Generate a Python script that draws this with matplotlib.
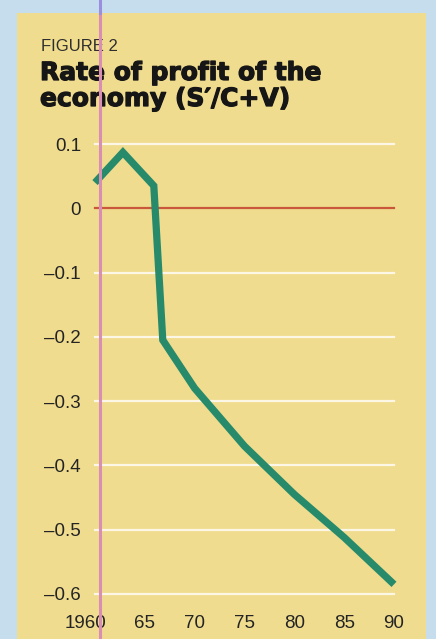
import matplotlib
matplotlib.use("Agg")
import matplotlib.pyplot as plt
from matplotlib.patches import Rectangle
from matplotlib.lines import Line2D
import matplotlib.transforms as mtransforms
import matplotlib.patheffects as pe

# Data
years = [1960, 1962.8, 1965.9, 1966.8, 1970, 1975, 1980, 1985, 1990]
rate = [0.04, 0.087, 0.035, -0.205, -0.28, -0.37, -0.445, -0.512, -0.585]
xticks = [1960, 1965, 1970, 1975, 1980, 1985, 1990]
xlabels = ["1960", "65", "70", "75", "80", "85", "90"]
yticks = [0.1, 0.0, -0.1, -0.2, -0.3, -0.4, -0.5, -0.6]
ylabels = ["0.1", "0", "\u20130.1", "\u20130.2", "\u20130.3", "\u20130.4", "\u20130.5", "\u20130.6"]

W, H = 436, 639
fig = plt.figure(figsize=(W / 100, H / 100), dpi=100)
fig.patch.set_facecolor("#c6ddee")

# Yellow panel
fig.patches.append(Rectangle((17 / W, 0), (426 - 17) / W, (H - 13) / H,
                             transform=fig.transFigure, facecolor="#f0dc8e",
                             edgecolor="none", zorder=-5))

ax = fig.add_axes([95 / W, (H - 594) / H, (394 - 95) / W, 450 / H])
ax.set_zorder(2)
ax.set_facecolor("none")
ax.set_xlim(1960, 1990)
ax.set_ylim(-0.6, 0.1)
for s in ax.spines.values():
    s.set_visible(False)

for y in yticks:
    if y == 0:
        ax.axhline(y, color="#c9573c", lw=1.6, zorder=2, clip_on=False)
    else:
        ax.axhline(y, color="#fbf6e6", lw=1.6, zorder=1, clip_on=False)

ax.plot(years, rate, color="#278a6a", lw=5.2, solid_joinstyle="miter",
        solid_capstyle="butt", zorder=3, clip_on=False)

ax.set_yticks(yticks)
ax.set_yticklabels(ylabels, fontsize=13.5, family="Liberation Sans", color="#242424")
ax.set_xticks(xticks)
ax.set_xticklabels(xlabels, fontsize=13.5, family="Liberation Sans", color="#242424")
ax.tick_params(axis="y", length=0, pad=10)
ax.tick_params(axis="x", length=0, pad=15)

lab0 = ax.get_xticklabels()[0]
lab0.set_transform(lab0.get_transform() +
                   mtransforms.ScaledTranslation(-10 / 100, 0, fig.dpi_scale_trans))

# Titles
fig.text(41 / W, 1 - 51 / H, "FIGURE 2", fontsize=12, family="Liberation Sans",
         color="#2e2e2e", va="baseline", ha="left")
heavy = [pe.withStroke(linewidth=0.9, foreground="#161616")]
fig.text(40 / W, 1 - 80 / H, "Rate of profit of the", fontsize=18.0,
         family="DejaVu Sans", fontweight="bold", color="#161616",
         va="baseline", ha="left", path_effects=heavy)
fig.text(40 / W, 1 - 106 / H, "economy (S\u2032/C+V)", fontsize=18.0,
         family="DejaVu Sans", fontweight="bold", color="#161616",
         va="baseline", ha="left", path_effects=heavy)

# Printing registration line
fig.add_artist(Line2D([100 / W, 100 / W], [1 - 13 / H, 0], transform=fig.transFigure,
                      color="#d98fb4", lw=2.2, zorder=5))
fig.add_artist(Line2D([100 / W, 100 / W], [1, 1 - 13 / H], transform=fig.transFigure,
                      color="#9a8fdc", lw=2.2, zorder=5))

fig.savefig("out.png", dpi=100, facecolor=fig.get_facecolor())
